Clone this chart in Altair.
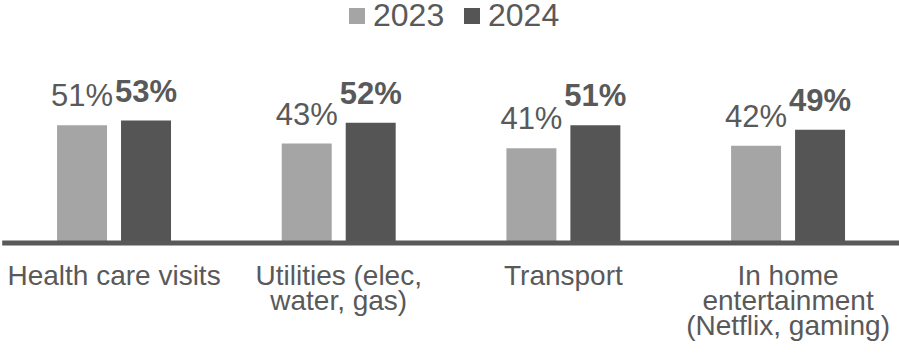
import altair as alt
import pandas as pd

categories = [
    "Health care visits",
    "Utilities (elec,|water, gas)",
    "Transport",
    "In home|entertainment|(Netflix, gaming)",
]
years = ["2023", "2024"]
values_2023 = [51, 43, 41, 42]
values_2024 = [53, 52, 51, 49]
bar_colors = ["#A5A5A5", "#555555"]
text_color = "#595959"

rows = []
for c, a, b in zip(categories, values_2023, values_2024):
    rows.append({"category": c, "year": years[0], "value": a})
    rows.append({"category": c, "year": years[1], "value": b})
df = pd.DataFrame(rows)

FONT = "Liberation Sans"

base = alt.Chart(df).transform_calculate(
    label="datum.value + '%'"
).encode(
    x=alt.X(
        "category:N",
        sort=categories,
        scale=alt.Scale(paddingInner=0.4928, paddingOuter=0.2464, range=[1.7, 900.4]),
        axis=alt.Axis(
            title=None,
            ticks=False,
            tickSize=0,
            domainColor=text_color,
            domainWidth=5,
            labelAngle=0,
            labelFont=FONT,
            labelFontSize=28,
            labelColor=text_color,
            labelLineHeight=25,
            labelBaseline="alphabetic",
            labelPadding=42,
            labelLimit=0,
            labelExpr="split(datum.label, '|')",
            zindex=1,
        ),
    ),
    xOffset=alt.XOffset(
        "year:N",
        scale=alt.Scale(domain=years, paddingInner=0.21875, paddingOuter=0),
    ),
    y=alt.Y("value:Q", scale=alt.Scale(domain=[0, 105.4]), axis=None),
)

bars = base.mark_bar().encode(
    color=alt.Color(
        "year:N",
        scale=alt.Scale(domain=years, range=bar_colors),
        legend=alt.Legend(
            title=None,
            orient="none",
            legendX=341,
            legendY=0,
            direction="horizontal",
            symbolType="square",
            symbolSize=256,
            symbolStrokeWidth=0,
            symbolOpacity=1,
            labelFont=FONT,
            labelFontSize=32,
            labelColor=text_color,
            labelOffset=0,
            columnPadding=11,
            padding=0,
        ),
    )
)

lab23 = base.transform_filter(alt.datum.year == years[0]).mark_text(
    baseline="alphabetic", dy=-19, fontSize=31, font=FONT, color=text_color
).encode(text="label:N")

lab24 = base.transform_filter(alt.datum.year == years[1]).mark_text(
    baseline="alphabetic", dy=-19, fontSize=31, font=FONT, fontWeight="bold",
    color=text_color,
).encode(text="label:N")

chart = alt.layer(bars, lab23, lab24).properties(
    width=899,
    height=242.5,
    autosize=alt.AutoSizeParams(type="none"),
    padding={"left": 0, "top": 0, "right": 0, "bottom": 114.5},
).configure_view(stroke=None)

chart.save("out.html", embed_options={"renderer": "svg", "actions": False})
